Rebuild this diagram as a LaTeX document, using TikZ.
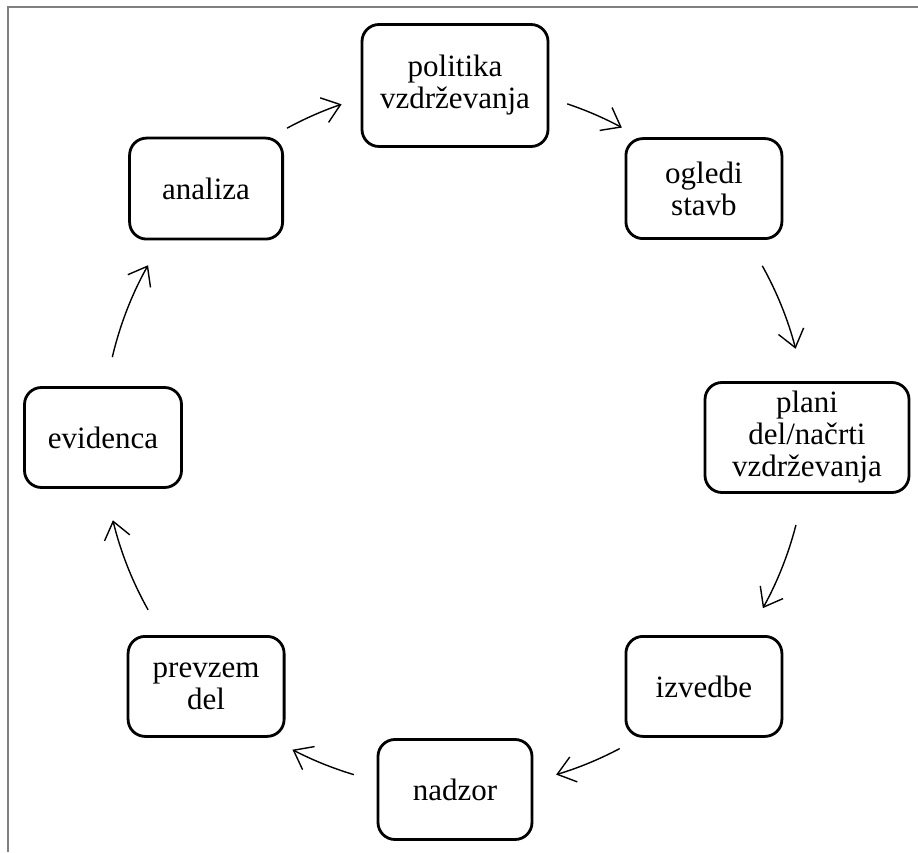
\documentclass[tikz,border=0pt]{standalone}
\usepackage{fontspec}
\setmainfont{Liberation Serif}
\usetikzlibrary{arrows.meta}
\definecolor{framegray}{RGB}{128,128,128}
\begin{document}
\begin{tikzpicture}[x=1pt,y=1pt,
  box/.style={draw=black,line width=2.8pt,rounded corners=17pt,align=center,inner sep=0pt,
    font=\fontsize{31}{32}\selectfont,minimum width=156pt,minimum height=100pt},
  conn/.style={line width=1.4pt,-{Straight Barb[length=17pt,width=26pt]}},
  framerule/.style={draw=framegray,line width=1.3pt}]
\useasboundingbox (0,0) rectangle (918,852);
\draw[framerule] (918,845) -- (8,845) -- (8,0);
\coordinate (c) at (455,414.5);
% nodes
\node[box,minimum width=186pt,minimum height=122pt] (politika) at ([shift={(90:352)}]c) {politika\\vzdrževanja};
\node[box] (ogledi) at ([shift={(45:352)}]c) {ogledi\\stavb};
\node[box,minimum width=204pt,minimum height=110pt] (plani) at ([shift={(0:352)}]c) {plani\\del/načrti\\vzdrževanja};
\node[box] (izvedbe) at ([shift={(-45:352)}]c) {izvedbe};
\node[box,minimum width=154pt] (nadzor) at ([shift={(-90:352)}]c) {nadzor};
\node[box] (prevzem) at ([shift={(-135:352)}]c) {prevzem\\del};
\node[box,minimum width=157pt] (evidenca) at ([shift={(180:352)}]c) {evidenca};
\node[box,minimum width=153pt,minimum height=101pt] (analiza) at ([shift={(135:352)}]c) {analiza};
% connector start points on the cycle
\coordinate (s1) at ([shift={(118.5:352)}]c);
\coordinate (s2) at ([shift={(71.4:352)}]c);
\coordinate (s3) at ([shift={(29.2:352)}]c);
\coordinate (s4) at ([shift={(-14.4:352)}]c);
\coordinate (s5) at ([shift={(-62.1:352)}]c);
\coordinate (s6) at ([shift={(-106.7:352)}]c);
\coordinate (s7) at ([shift={(-150.7:352)}]c);
\coordinate (s8) at ([shift={(166.8:352)}]c);
% connectors
\draw[conn] (s1) arc[start angle=118.5,end angle=108.8,radius=352];
\draw[conn] (s2) arc[start angle=71.4,end angle=61.7,radius=352];
\draw[conn] (s3) arc[start angle=29.2,end angle=14.6,radius=352];
\draw[conn] (s4) arc[start angle=-14.4,end angle=-29,radius=352];
\draw[conn] (s5) arc[start angle=-62.1,end angle=-73.3,radius=352];
\draw[conn] (s6) arc[start angle=-106.7,end angle=-117.5,radius=352];
\draw[conn] (s7) arc[start angle=-150.7,end angle=-166.4,radius=352];
\draw[conn] (s8) arc[start angle=166.8,end angle=150.7,radius=352];
\end{tikzpicture}
\end{document}
